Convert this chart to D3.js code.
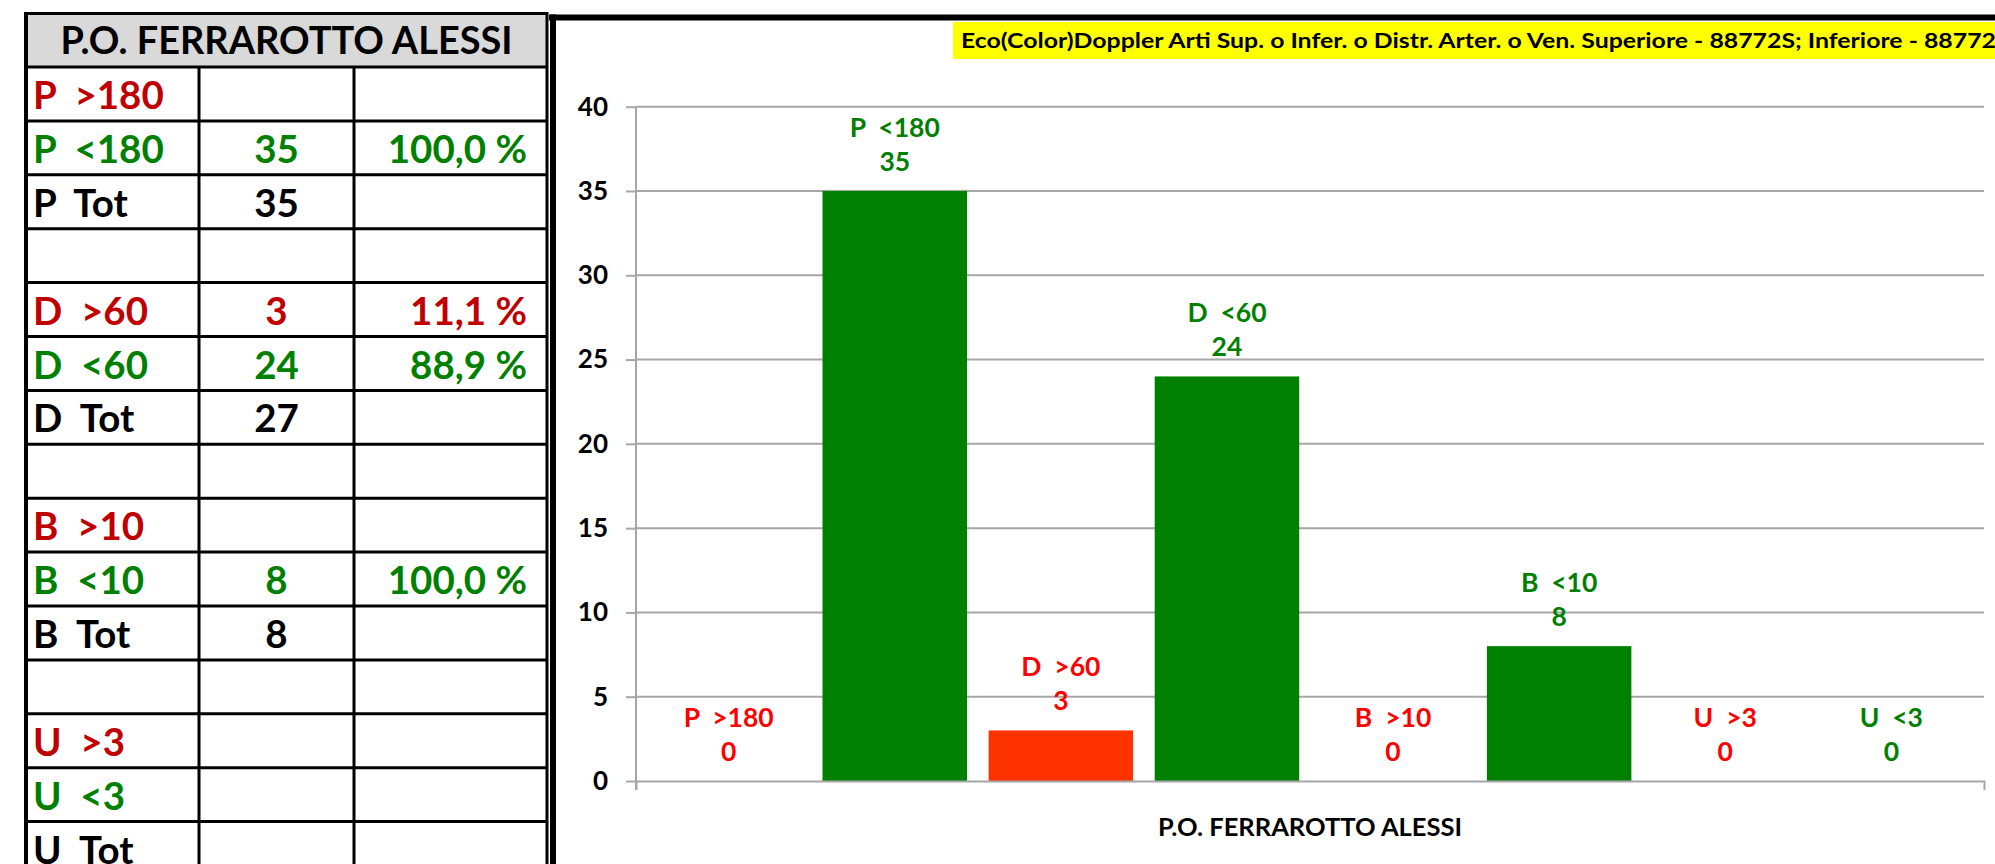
<!DOCTYPE html>
<html><head><meta charset="utf-8">
<script src="https://cdn.jsdelivr.net/npm/d3@7"></script>
<style>
body{margin:0;background:#fff;overflow:hidden}
svg{display:block}
text{font-family:Lato,'Open Sans',sans-serif;font-weight:bold;white-space:pre}
</style>
</head><body>
<svg id="c" width="1995" height="864"></svg>
<script>
// ---------- data ----------
const categories = ["P.O. FERRAROTTO ALESSI"];
const seriesNames = ["P  >180","P  <180","D  >60","D  <60","B  >10","B  <10","U  >3","U  <3"];
const seriesValues = [0,35,3,24,0,8,0,0];
const yTicks = [0,5,10,15,20,25,30,35,40];
const chartTitle = "Eco(Color)Doppler Arti Sup. o Infer. o Distr. Arter. o Ven. Superiore - 88772S; Inferiore - 88772";
const tableHeader = "P.O. FERRAROTTO ALESSI";
const tableLabels = ["P  >180","P  <180","P  Tot","","D  >60","D  <60","D  Tot","","B  >10","B  <10","B  Tot","","U  >3","U  <3","U  Tot"];
const tableCounts = ["","35","35","","3","24","27","","","8","8","","","",""];
const tablePercents = ["","100,0 %","","","11,1 %","88,9 %","","","","100,0 %","","","","",""];

// ---------- styles ----------
const kindOf = s => s.includes(">") ? "hi" : (s.includes("<") ? "lo" : "tot");
const tableColor = {hi:"#C00000", lo:"#008000", tot:"#000000"};
const barColor = {hi:"#FF3300", lo:"#008000"};
const labelColor = {hi:"#FF0000", lo:"#008000"};
const FS_TABLE = 38.5, FS_LABEL = 26.5, FS_TICK = 26, FS_CAT = 25.5;

const svg = d3.select("#c");

// ---------- table ----------
const colEdges = [26, 199, 354, 547];
const tTop = 13.5, hBottom = 67, rowH = 53.9;
const rowY = d3.scaleLinear().domain([0, tableLabels.length]).range([hBottom, hBottom + rowH*tableLabels.length]);
const tg = svg.append("g");
tg.append("rect").attr("x", colEdges[0]).attr("y", tTop).attr("width", colEdges[3]-colEdges[0]).attr("height", hBottom-tTop).attr("fill", "#D9D9D9");
tg.append("text").attr("x", (colEdges[0]+colEdges[3])/2).attr("y", 54).attr("text-anchor","middle")
  .attr("font-size", FS_TABLE).attr("fill","#000").attr("textLength", 452).attr("lengthAdjust","spacingAndGlyphs").text(tableHeader);

tableLabels.forEach((lab, i) => {
  const y0 = rowY(i);
  const k = kindOf(lab);
  const col = tableColor[k];
  if (lab) tg.append("text").attr("x", colEdges[0]+7).attr("y", y0+42).attr("font-size",FS_TABLE).attr("fill", col).text(lab);
  if (tableCounts[i]) tg.append("text").attr("x", (colEdges[1]+colEdges[2])/2).attr("y", y0+42).attr("text-anchor","middle").attr("font-size",FS_TABLE).attr("fill", col).text(tableCounts[i]);
  if (tablePercents[i]) tg.append("text").attr("x", colEdges[3]-20).attr("y", y0+42).attr("text-anchor","end").attr("font-size",FS_TABLE).attr("fill", col).text(tablePercents[i]);
});
// grid lines
const bottomY = rowY(tableLabels.length);
for (let i = 0; i <= tableLabels.length; i++) {
  tg.append("line").attr("x1", colEdges[0]).attr("x2", colEdges[3]).attr("y1", rowY(i)).attr("y2", rowY(i)).attr("stroke","#000").attr("stroke-width",3);
}
tg.append("line").attr("x1", colEdges[0]).attr("x2", colEdges[3]).attr("y1", tTop).attr("y2", tTop).attr("stroke","#000").attr("stroke-width",3);
[colEdges[1], colEdges[2]].forEach(x => tg.append("line").attr("x1",x).attr("x2",x).attr("y1",hBottom).attr("y2",bottomY).attr("stroke","#000").attr("stroke-width",3));
tg.append("line").attr("x1",colEdges[0]).attr("x2",colEdges[0]).attr("y1",tTop-1.5).attr("y2",bottomY).attr("stroke","#000").attr("stroke-width",4);
tg.append("line").attr("x1",colEdges[3]).attr("x2",colEdges[3]).attr("y1",tTop-1.5).attr("y2",bottomY).attr("stroke","#000").attr("stroke-width",3);

// ---------- chart frame ----------
svg.append("line").attr("x1",549).attr("x2",1995).attr("y1",17.5).attr("y2",17.5).attr("stroke","#000").attr("stroke-width",6);
svg.append("line").attr("x1",553).attr("x2",553).attr("y1",14.5).attr("y2",864).attr("stroke","#000").attr("stroke-width",6);

// title
svg.append("rect").attr("x",953).attr("y",22).attr("width",1042).attr("height",37).attr("fill","#FFFF00");
svg.append("text").attr("x",961).attr("y",48).attr("font-size",21.5).attr("fill","#000")
  .attr("textLength", 1035).attr("lengthAdjust","spacingAndGlyphs").text(chartTitle);

// ---------- plot ----------
const plotL = 636, plotR = 1984, plotB = 781, plotT = 106.7;
const x = d3.scaleBand().domain(seriesNames).range([plotL, plotR]).paddingInner(0.13).paddingOuter(0.123);
const xc = d3.scaleBand().domain(categories).range([plotL, plotR]);
const y = d3.scaleLinear().domain([0, 40]).range([plotB, plotT]);
const axisColor = "#A6A6A6";

// gridlines
svg.append("g").selectAll("line").data(yTicks.filter(t => t > 0)).join("line")
  .attr("x1", plotL).attr("x2", plotR).attr("y1", d => y(d)).attr("y2", d => y(d))
  .attr("stroke", axisColor).attr("stroke-width", 2);

// y axis
const ya = svg.append("g").attr("transform", `translate(${plotL},0)`)
  .call(d3.axisLeft(y).tickValues(yTicks).tickSize(10).tickPadding(18));
ya.select(".domain").remove();
ya.selectAll(".tick line").attr("stroke", axisColor).attr("stroke-width", 2);
ya.selectAll(".tick text").attr("font-size", FS_TICK).attr("fill","#000").style("font-family","Lato,'Open Sans',sans-serif").style("font-weight","bold");
svg.append("line").attr("x1",plotL).attr("x2",plotL).attr("y1",plotT).attr("y2",plotB+9).attr("stroke",axisColor).attr("stroke-width",2);

// bars
svg.append("g").selectAll("rect").data(seriesNames).join("rect")
  .attr("x", d => x(d)).attr("width", x.bandwidth())
  .attr("y", (d,i) => y(seriesValues[i])).attr("height", (d,i) => y(0) - y(seriesValues[i]))
  .attr("fill", d => barColor[kindOf(d)]);

// x axis
const xa = svg.append("g").attr("transform", `translate(0,${plotB})`)
  .call(d3.axisBottom(xc).tickSizeInner(0).tickSizeOuter(9).tickPadding(37));
xa.select(".domain").attr("stroke", axisColor).attr("stroke-width", 2);
xa.selectAll(".tick text").attr("font-size", FS_CAT).attr("fill","#000").style("font-family","Lato,'Open Sans',sans-serif").style("font-weight","bold");

// data labels
const lg = svg.append("g");
seriesNames.forEach((d, i) => {
  const cx = x(d) + x.bandwidth()/2;
  const top = y(seriesValues[i]);
  const col = labelColor[kindOf(d)];
  lg.append("text").attr("x", cx).attr("y", top - 54).attr("text-anchor","middle").attr("font-size",FS_LABEL).attr("fill",col).text(d);
  lg.append("text").attr("x", cx).attr("y", top - 20).attr("text-anchor","middle").attr("font-size",FS_LABEL).attr("fill",col).text(String(seriesValues[i]));
});
</script>
</body></html>
